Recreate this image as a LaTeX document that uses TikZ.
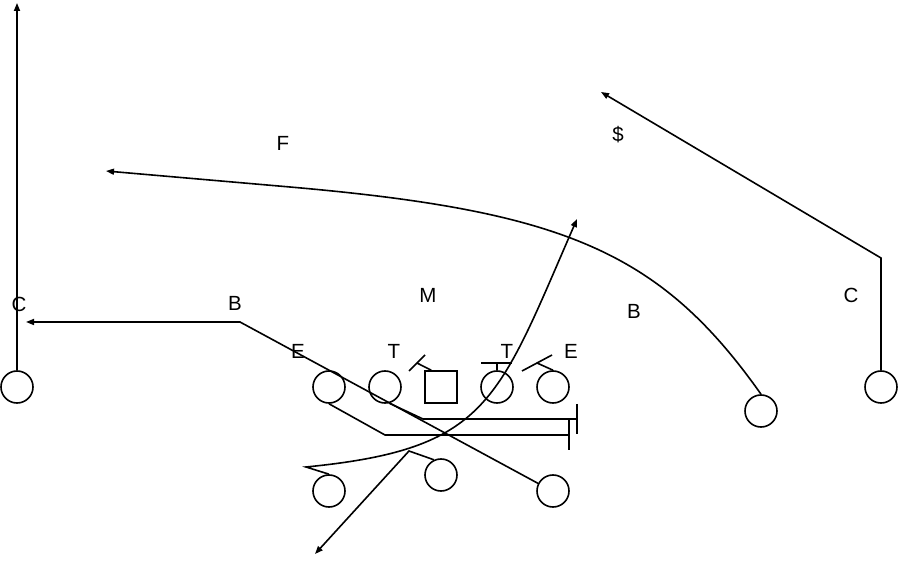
\documentclass[tikz,border=0pt]{standalone}
\usepackage{fontspec}
\setmainfont{Liberation Sans}
\usetikzlibrary{arrows.meta,calc}
\begin{document}
\begin{tikzpicture}[x=1pt,y=-1pt,
  line width=1.6pt, line join=miter,
  player/.style={circle,draw,minimum size=32pt,inner sep=0pt},
  ctr/.style={rectangle,draw,minimum size=32pt,inner sep=0pt},
  lbl/.style={inner sep=0pt,font=\fontsize{20.5}{24}\selectfont},
  arr/.style={-{Triangle[length=8pt,width=6pt]}}]
\useasboundingbox (0,0) rectangle (898,561);
% players
\node[player] (lc) at (17,387) {};
\node[player] (el) at (329,387) {};
\node[player] (tl) at (385,387) {};
\node[ctr]    (sq) at (441,387) {};
\node[player] (tr) at (497,387) {};
\node[player] (er) at (553,387) {};
\node[player] (rb) at (761,411) {};
\node[player] (rc) at (881,387) {};
\node[player] (lb) at (329,491) {};
\node[player] (mb) at (441,475) {};
\node[player] (bb) at (553,491) {};
% labels
\node[lbl] (lC) at (19,304) {C};
\node[lbl] (lB) at (235,303) {B};
\node[lbl] (lF) at (283,143) {F};
\node[lbl] (lM) at (428,295) {M};
\node[lbl] (lS) at (618,135) {\$};
\node[lbl] (rB) at (634,311) {B};
\node[lbl] (rC) at (851,295) {C};
\node[lbl] (lE) at (298,351) {E};
\node[lbl] (lT) at (394,351) {T};
\node[lbl] (rT) at (507,351) {T};
\node[lbl] (rE) at (571,351) {E};
% coordinates
\coordinate (lcEnd) at (17,3);
\coordinate (bCorner) at (240,322);
\coordinate (bEnd) at (26,322);
\coordinate (eTurn) at (385,435);
\coordinate (eEnd) at (569,435);
\coordinate (tTurn) at (423,419);
\coordinate (tEnd) at (577,419);
\coordinate (lbTurn) at (306,467);
\coordinate (lbEnd) at (577,219);
\coordinate (mbTurn) at (409,451);
\coordinate (mbEnd) at (315,554);
\coordinate (fBend) at (290,187);
\coordinate (fEnd) at (106,171);
\coordinate (rcCorner) at (881,258);
\coordinate (rcEnd) at (601,92);
% routes
\draw[arr] (lc.north) -- (lcEnd);
\draw[arr] (bb.153) -- (bCorner) -- (bEnd);
\draw (el.south) -- (eTurn) -- (eEnd);
\draw ($(eEnd)+(0,-15.5)$) -- ($(eEnd)+(0,15.5)$);
\draw (tl.-75) -- (tTurn) -- (tEnd);
\draw ($(tEnd)+(0,-15)$) -- ($(tEnd)+(0,15)$);
\draw[arr] (lb.north) -- (lbTurn) .. controls (488.5,449) and (497,402.5) .. (lbEnd);
\draw[arr] (mb.115) -- (mbTurn) -- (mbEnd);
\draw[arr] (rb.north) .. controls (660,251.2) and (563.3,210.9) .. (fBend) -- (fEnd);
\draw[arr] (rc.north) -- (rcCorner) -- (rcEnd);
% blocks
\draw ([xshift=7pt]sq.north west) -- (417,363);
\draw (409,371) -- (425,355);
\draw (tr.north) -- (497,363);
\draw (481,363) -- (512,363);
\draw (er.north) -- (537,363);
\draw (522,371) -- (552,355);
\end{tikzpicture}
\end{document}
